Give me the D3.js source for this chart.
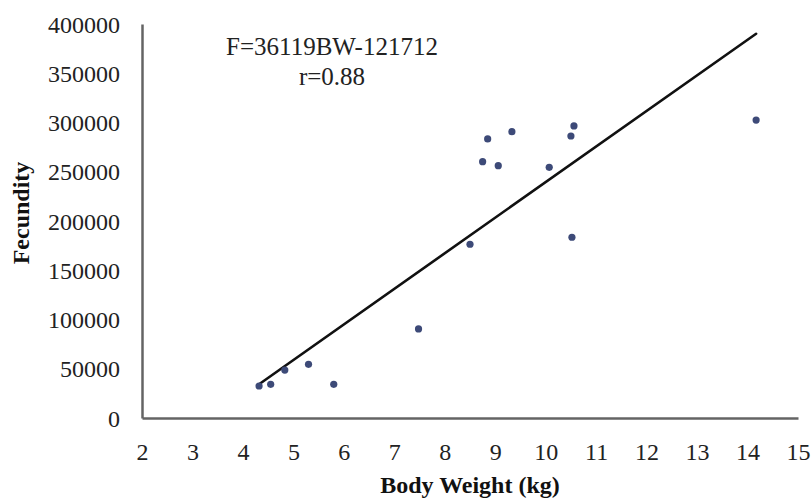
<!DOCTYPE html>
<html>
<head>
<meta charset="utf-8">
<script src="https://cdn.jsdelivr.net/npm/d3@7"></script>
<style>
  body { margin: 0; background: #fff; }
  svg { display: block; font-family: "Liberation Serif", "Times New Roman", serif; }
</style>
</head>
<body>
<svg id="chart" width="811" height="499"></svg>
<script>
// body weight (kg) vs fecundity
const bodyWeight = [4.32, 4.55, 4.83, 5.30, 5.80, 7.48, 8.50, 8.75, 8.85, 9.06, 9.33, 10.07, 10.50, 10.52, 10.56, 14.17];
const fecundity = [32500, 34200, 48700, 54500, 34200, 90400, 176400, 260200, 283300, 256200, 290700, 254500, 286300, 183500, 296500, 302500];
const xTicks = [2, 3, 4, 5, 6, 7, 8, 9, 10, 11, 12, 13, 14, 15];
const yTicks = [0, 50000, 100000, 150000, 200000, 250000, 300000, 350000, 400000];
const fitSlope = 36119;
const fitIntercept = -121712;
const fitLabels = ["F=36119BW-121712", "r=0.88"];

const margins = { top: 24, bottom: 81, left: 142, right: 13 };
const width = 811, height = 499;
const graphWidth = width - margins.left - margins.right;
const graphHeight = height - margins.top - margins.bottom;

const data = bodyWeight.map((d, i) => ({ bw: d, f: fecundity[i] }));

const scaleX = d3.scaleLinear().domain([2, 15]).range([0, graphWidth]);
const scaleY = d3.scaleLinear().domain([0, 400000]).range([graphHeight, 0]);

const svg = d3.select("#chart");
const g = svg.append("g").attr("transform", `translate(${margins.left},${margins.top})`);

// axes (no tick marks, labels only)
const xAxis = d3.axisBottom(scaleX).tickValues(xTicks).tickSize(0).tickPadding(27).tickFormat(d3.format("d"));
const yAxis = d3.axisLeft(scaleY).tickValues(yTicks).tickSize(0).tickPadding(22).tickFormat(d3.format("d"));

const xg = g.append("g").attr("transform", `translate(0,${graphHeight})`).call(xAxis);
const yg = g.append("g").call(yAxis);

[xg, yg].forEach((a) => {
  a.select(".domain").attr("stroke", "#646464").attr("stroke-width", 2.5);
  a.selectAll("text")
    .attr("font-family", "Liberation Serif")
    .attr("font-size", 24)
    .attr("fill", "#222");
});
yg.selectAll("text").attr("dy", "0.34em");
xg.selectAll("text").attr("dy", "0.62em");

// regression line over the data range
const xExt = d3.extent(bodyWeight);
const line = d3.line().x((d) => scaleX(d)).y((d) => scaleY(fitSlope * d + fitIntercept));
g.append("path")
  .datum(xExt)
  .attr("d", line)
  .attr("fill", "none")
  .attr("stroke", "#111")
  .attr("stroke-width", 2.6)
  .attr("stroke-linecap", "round");

// points
g.selectAll("circle")
  .data(data)
  .enter()
  .append("circle")
  .attr("cx", (d) => scaleX(d.bw))
  .attr("cy", (d) => scaleY(d.f))
  .attr("r", 3.6)
  .attr("fill", "#3d4a78");

// equation text
g.selectAll(".fit")
  .data(fitLabels)
  .enter()
  .append("text")
  .attr("class", "fit")
  .attr("x", 190)
  .attr("y", (d, i) => 31 + i * 30)
  .attr("text-anchor", "middle")
  .attr("font-size", 25)
  .attr("fill", "#222")
  .text((d) => d);

// axis titles
svg.append("text")
  .attr("x", margins.left + graphWidth / 2)
  .attr("y", 493)
  .attr("text-anchor", "middle")
  .attr("font-size", 24)
  .attr("font-weight", "bold")
  .attr("fill", "#111")
  .text("Body Weight (kg)");

svg.append("text")
  .attr("transform", "translate(29,213) rotate(-90)")
  .attr("text-anchor", "middle")
  .attr("font-size", 24)
  .attr("font-weight", "bold")
  .attr("fill", "#111")
  .text("Fecundity");
</script>
</body>
</html>
